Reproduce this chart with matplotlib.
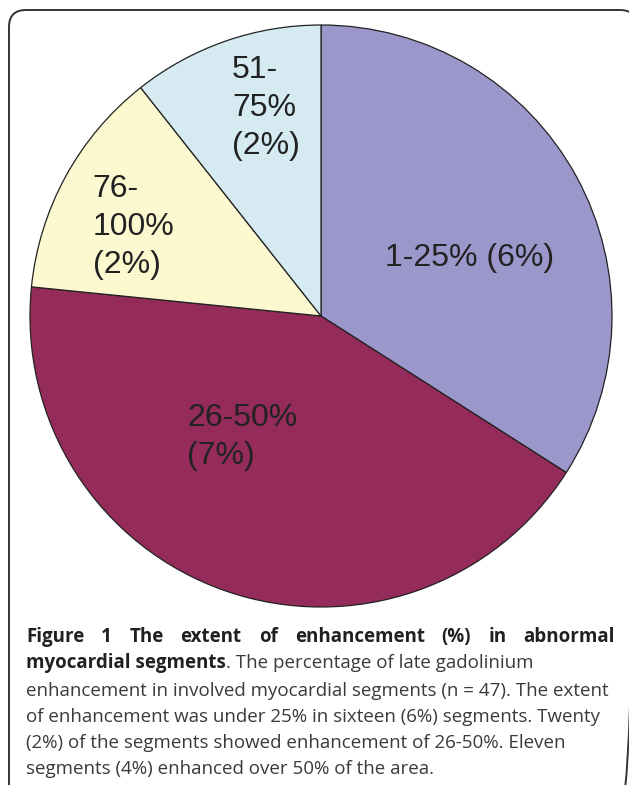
import matplotlib.pyplot as plt
from matplotlib.patches import FancyBboxPatch

# data (segments per class, n = 47)
classes = ['1-25% (6%)', '26-50%\n(7%)', '76-\n100%\n(2%)', '51-\n75%\n(2%)']
counts = [16, 20, 6, 5]
colors = ['#9c97cb', '#952b5a', '#fcf8cf', '#d5ebf1']

caption_bold = ['Figure', '1', 'The', 'extent', 'of', 'enhancement', '(%)', 'in', 'abnormal']
caption_bold2 = 'myocardial segments'
caption_rest = [
    '. The percentage of late gadolinium',
    'enhancement in involved myocardial segments (n = 47). The extent',
    'of enhancement was under 25% in sixteen (6%) segments. Twenty',
    '(2%) of the segments showed enhancement of 26-50%. Eleven',
    'segments (4%) enhanced over 50% of the area.',
]

fig = plt.figure(figsize=(6.29, 7.85), dpi=100)

# background axes in pixel units for frame + caption
bg = fig.add_axes([0, 0, 1, 1])
bg.set_xlim(0, 629)
bg.set_ylim(785, 0)
bg.axis('off')
frame = FancyBboxPatch((9, 10), 628, 800, boxstyle='round,pad=0,rounding_size=17',
                       fc='none', ec='#333333', lw=1.4)
bg.add_patch(frame)

# pie
cx, cy, R = 321, 316, 291
ax = fig.add_axes([(cx - R) / 629, (785 - cy - R) / 785, 2 * R / 629, 2 * R / 785])
ax.pie(counts, colors=colors, startangle=90, counterclock=False,
       wedgeprops=dict(edgecolor='#222222', linewidth=0.9))
ax.set_xlim(-1, 1)
ax.set_ylim(-1, 1)
ax.set_aspect('equal')

# label placement (left edge, vertical centre) in pie units
label_pos = [(0.22, 0.199), (-0.46, -0.416), (-0.784, 0.306), (-0.306, 0.715)]
for txt, (x, y) in zip(classes, label_pos):
    ax.text(x, y, txt, ha='left', va='center', multialignment='left',
            fontsize=23, family='Liberation Sans', color='#222222', linespacing=1.33)

# caption
fs = 13.5
x0, x1 = 26, 615
base = [642, 668, 695.5, 721.5, 747.5, 774]
r = fig.canvas.get_renderer()

# first line: bold, justified
words = [bg.text(0, base[0], w, fontsize=fs, family='Open Sans', weight='bold',
                 color='#231f20', va='baseline') for w in caption_bold]
widths = [w.get_window_extent(r).width for w in words]
gap = (x1 - x0 - sum(widths)) / (len(words) - 1)
x = x0
for w, wd in zip(words, widths):
    w.set_x(x)
    x += wd + gap

# second line: bold start then regular
b2 = bg.text(x0, base[1], caption_bold2, fontsize=fs, family='Open Sans', weight='bold',
             color='#231f20', va='baseline')
wb = b2.get_window_extent(r).width
bg.text(x0 + wb, base[1], caption_rest[0], fontsize=fs, family='Open Sans',
        color='#3a3a3a', va='baseline')
for line, yb in zip(caption_rest[1:], base[2:]):
    bg.text(x0, yb, line, fontsize=fs, family='Open Sans', color='#3a3a3a', va='baseline')

fig.savefig('out.png', dpi=100)
